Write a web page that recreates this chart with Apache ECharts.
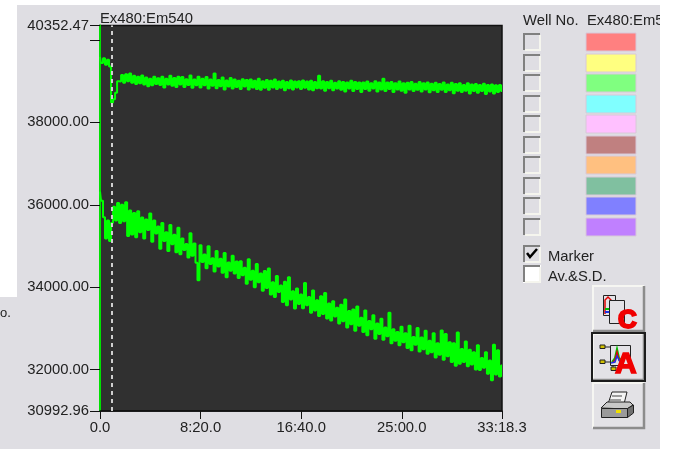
<!DOCTYPE html>
<html>
<head>
<meta charset="utf-8">
<style>html,body{margin:0;padding:0;background:#fff}#main{width:673px;height:449px}</style>
<script src="https://cdn.jsdelivr.net/npm/echarts@6/dist/echarts.min.js"></script>
</head>
<body>
<div id="main"></div>
<script>
var endTime = 1998.3;
var markerTime = 60;
var seriesNames = ['Ex480:Em540 upper', 'Ex480:Em540 lower'];
var yTicks = [30992.96, 32000, 34000, 36000, 38000, 40000, 40352.47];
var yLabels = [30992.96, 32000, 34000, 36000, 38000, 40352.47];
var xTicks = [0, 500, 1000, 1500, 1998.3];
var xTickLabels = ['0.0', '8:20.0', '16:40.0', '25:00.0', '33:18.3'];
var wellColors = ['#ff8080', '#ffff80', '#80ff80', '#80ffff', '#ffc0ff', '#c08080', '#ffc080', '#80c0a0', '#8080ff', '#c080ff'];

// one reading about every 10 s
var upper = [
  39590,39440,39560,39400,39520,39360,38480,38560,38720,39000,
  38990,39150,38960,39170,39000,39190,38960,39130,38930,39110,
  38950,39140,38920,39090,38880,39060,38900,39110,38930,39070,
  38910,39110,38850,39060,38920,39130,38890,39080,38860,39110,
  38920,39100,38860,39050,38910,39140,38840,39040,38900,39110,
  38850,39060,38900,39100,38820,39040,38890,39190,38830,39030,
  38880,39090,38800,39020,38870,39080,38820,39040,38860,39010,
  38810,39050,38870,39030,38800,39040,38850,39010,38810,39060,
  38790,39000,38840,39030,38790,39010,38850,39040,38810,38990,
  38840,39010,38780,38980,38830,39020,38800,38990,38850,39000,
  38810,39020,38840,38990,38800,39010,38780,38980,38830,39130,
  38820,39000,38770,38980,38830,39010,38780,38960,38820,39000,
  38790,38980,38750,38970,38820,39010,38760,38980,38810,38970,
  38740,38970,38810,38990,38770,38950,38820,39000,38750,38970,
  38800,39060,38760,38970,38810,38980,38740,38950,38800,38990,
  38770,38950,38720,38960,38800,38980,38760,38940,38790,38980,
  38750,38950,38800,38970,38730,38940,38780,38960,38740,38930,
  38790,38970,38740,38920,38780,38960,38710,38930,38770,38950,
  38740,38910,38770,38950,38700,38920,38760,38930,38720,38910,
  38760,38940,38690,38910,38750,38920,38700,38900,38740,38910,
  38760
];
var lower = [
  36320,36100,35700,35180,35620,35120,35560,35950,35620,36040,
  35560,36000,35600,36060,35240,35860,35280,35800,35210,35840,
  35330,35690,35180,35640,35390,35790,35100,35620,35300,35470,
  34930,35560,35120,35330,34880,35510,35040,35270,34850,35440,
  34800,35180,34900,35050,34720,35310,34760,35060,34590,34170,
  35020,34610,34790,34460,34990,34560,34700,34380,34880,34500,
  34690,34350,34830,34240,34600,34400,34760,34330,34620,34220,
  34630,34290,34470,34080,34680,34180,34400,34000,34560,34120,
  34330,33910,34390,33980,34450,33820,34120,33760,34270,33880,
  34040,33640,34130,33560,34240,33700,33900,33480,33970,33590,
  33820,33490,34100,33560,33760,33380,33920,33430,33680,33300,
  33780,33350,33860,33240,33600,33190,33660,33290,33500,33120,
  33570,33170,33700,33020,33420,33100,33460,32940,33530,33060,
  33260,32910,33430,32830,33180,32980,33320,32750,33120,32860,
  33230,32720,33020,32810,33380,32640,32980,32700,32910,32590,
  33040,32660,32880,32520,33060,32470,32790,32600,33010,32440,
  32780,32490,32940,32380,32700,32420,32880,32290,32640,32360,
  32950,32240,32860,32320,32660,32180,32640,32090,32900,32140,
  32500,32180,32680,32080,32480,32120,32420,32000,32590,31990,
  32280,32040,32420,31900,32220,31740,32600,31880,32470,31830,
  32100
];

var panel = '#dfdee3';
var fontSize = 14.8;
var sampleStep = endTime / (lower.length - 1);

function toPoints(values) {
  return values.map(function (v, i) { return [i * sampleStep, v]; });
}

function box(x, y, w, h, fill, stroke, lw, z) {
  return { type: 'rect', silent: true, z: z || 1, shape: { x: x, y: y, width: w, height: h },
    style: { fill: fill, stroke: stroke || null, lineWidth: lw || 0 } };
}
function line(pts, color, lw, z) {
  return { type: 'polyline', silent: true, z: z || 2, shape: { points: pts },
    style: { stroke: color, lineWidth: lw || 1, fill: null } };
}
function poly(pts, fill, stroke, z) {
  return { type: 'polygon', silent: true, z: z || 2, shape: { points: pts },
    style: { fill: fill, stroke: stroke || null, lineWidth: stroke ? 1 : 0 } };
}
function label(x, y, text, size, color, weight, z) {
  return { type: 'text', silent: true, z: z || 3, x: x, y: y + 1.5,
    style: { text: text, fontFamily: 'Liberation Sans', fontSize: size || fontSize, fill: color || '#222',
      fontWeight: weight || 'normal', verticalAlign: 'middle' } };
}
function checkbox(x, y, fill) {
  return [
    box(x, y, 18, 18, fill, null, 0, 1),
    line([[x + 1, y + 17], [x + 1, y + 1], [x + 17, y + 1]], '#808080', 2),
    line([[x + 17, y + 2], [x + 17, y + 17], [x + 2, y + 17]], '#f5f5ee', 2)
  ];
}
function button(x, y, w, h, pressed) {
  var out = [
    box(x, y, w, h, '#e3e2e6', null, 0, 1),
    line([[x + 1, y + h - 1], [x + 1, y + 1], [x + w - 1, y + 1]], '#f6f6f2', 2),
    line([[x + w - 1, y + 1], [x + w - 1, y + h - 1], [x + 1, y + h - 1]], '#8c8c8c', 2.5)
  ];
  if (pressed) out.push(box(x, y, w, h, 'transparent', '#1c1c1c', 2, 2));
  return out;
}

var shapes = [];
// window background, the page stays white round it
shapes.push(box(17, 5, 643, 444, panel, null, 0, -2));
shapes.push(box(0, 297, 17, 152, panel, null, 0, -2));
shapes.push(label(0, 312, 'o.', 13));
shapes.push(label(100, 17, 'Ex480:Em540', fontSize));
shapes.push(label(523, 19, 'Well No.', fontSize));
shapes.push(label(587, 19, 'Ex480:Em540', fontSize));

wellColors.forEach(function (c, i) {
  var y = Math.round(33 + i * 20.55);
  shapes = shapes.concat(checkbox(523, y, panel));
  shapes.push(box(586, y, 50, 18, c, '#d8c8d8', 1, 1));
});

shapes = shapes.concat(checkbox(523, 245, panel));
shapes.push(line([[527, 253], [530, 257], [537, 249]], '#000', 2.5));
shapes.push(label(548, 255, 'Marker', fontSize));
shapes = shapes.concat(checkbox(523, 265, '#fff'));
shapes.push(label(548, 275, 'Av.&S.D.', fontSize));

// copy button
shapes = shapes.concat(button(592, 285, 53, 47, false));
shapes.push(box(603.5, 295.5, 12, 20, '#e3e2e6', '#222', 1, 2));
shapes.push(line([[605, 314], [605, 300], [608, 297], [611, 300], [611, 312]], '#e00000', 1.5));
shapes.push(line([[605, 309], [611, 309]], '#00c000', 2));
shapes.push(line([[605, 312], [611, 312]], '#2030e0', 2));
shapes.push(box(609.5, 300.5, 15, 23, '#e3e2e6', '#222', 1, 2));
shapes.push(label(618, 319, 'C', 26, '#f00000', 900));
shapes[shapes.length - 1].style.stroke = '#f00000';
shapes[shapes.length - 1].style.lineWidth = 2;

// analysis button
shapes = shapes.concat(button(592, 333, 53, 48, true));
shapes.push(box(610.5, 345.5, 20, 20, '#e3e2e6', '#222', 1, 2));
shapes.push(line([[604, 347], [611, 347]], '#222', 1));
shapes.push(line([[604, 362], [611, 362]], '#222', 1));
shapes.push(line([[613, 365], [613, 369]], '#222', 1));
shapes.push(box(600, 345, 5, 3.5, '#d0c000', '#222', 1, 3));
shapes.push(box(600, 360, 5, 3.5, '#d0c000', '#222', 1, 3));
shapes.push(box(611, 367, 5, 3.5, '#d0c000', '#222', 1, 3));
shapes.push(line([[612, 362], [615, 358], [617, 349], [619, 358], [623, 362]], '#00c000', 2));
shapes.push(line([[613, 362], [615, 360], [617, 352], [619, 360], [622, 362]], '#e00000', 1.5));
shapes.push(line([[611, 363], [615, 362], [617, 356], [620, 362], [624, 363]], '#2030e0', 1.5));
shapes.push(label(615, 363, 'A', 30, '#f00000', 900));
shapes[shapes.length - 1].style.stroke = '#f00000';
shapes[shapes.length - 1].style.lineWidth = 1.5;

// print button
shapes = shapes.concat(button(592, 382, 53, 47, false));
shapes.push(poly([[612, 392], [627, 392], [624, 404], [608, 404]], '#f4f4f4', '#222'));
shapes.push(line([[612, 396], [622, 396]], '#444', 1));
shapes.push(line([[610, 400], [621, 400]], '#444', 1));
shapes.push(poly([[601, 408], [607, 402], [630, 402], [633, 405], [627, 409]], '#c8c8c8', '#222'));
shapes.push(box(601.5, 408.5, 26, 9, '#9a9a9a', '#222', 1, 2));
shapes.push(poly([[627.5, 408.5], [633.5, 405], [633.5, 413], [627.5, 417.5]], '#707070', '#222'));
shapes.push(box(616, 410, 5, 3, '#f0e000', null, 0, 3));

// the text under this runs past the window edge
shapes.push(box(660, 0, 13, 449, '#fff', null, 0, 20));

var chart = echarts.init(document.getElementById('main'));
chart.setOption({
  animation: false,
  backgroundColor: '#fff',
  textStyle: { fontFamily: 'Liberation Sans' },
  grid: { left: 100, top: 25.5, width: 402, height: 385.5, show: true, backgroundColor: '#303030', borderColor: '#111', borderWidth: 1.5 },
  xAxis: {
    type: 'value', min: 0, max: endTime,
    axisLine: { show: true, lineStyle: { color: '#111', width: 1.5 } },
    axisTick: { show: true, length: 8, customValues: xTicks, lineStyle: { color: '#111', width: 1 } },
    axisLabel: {
      customValues: xTicks, color: '#222', fontSize: fontSize, margin: 9,
      formatter: function (v) { return xTickLabels[xTicks.indexOf(v)]; }
    },
    splitLine: { show: false }
  },
  yAxis: {
    type: 'value', min: yTicks[0], max: yTicks[yTicks.length - 1],
    axisLine: { show: true, lineStyle: { color: '#00e000', width: 2 } },
    axisTick: { show: true, length: 10, customValues: yTicks, lineStyle: { color: '#111', width: 1 } },
    axisLabel: {
      customValues: yLabels, color: '#222', fontSize: fontSize, margin: 11,
      formatter: function (v) { return v.toFixed(2); }
    },
    splitLine: { show: false }
  },
  series: [
    {
      name: seriesNames[0], type: 'line', data: toPoints(upper), showSymbol: false, step: 'middle',
      lineStyle: { color: '#00ff00', width: 2 },
      markLine: {
        silent: true, symbol: 'none', label: { show: false }, animation: false,
        lineStyle: { color: '#cfcfcf', type: [4, 4], width: 2 },
        data: [{ xAxis: markerTime }]
      },
      z: 3
    },
    {
      name: seriesNames[1], type: 'line', data: toPoints(lower), showSymbol: false, step: 'middle',
      lineStyle: { color: '#00ff00', width: 2 }, z: 3
    }
  ],
  graphic: { elements: shapes }
});
</script>
</body>
</html>
